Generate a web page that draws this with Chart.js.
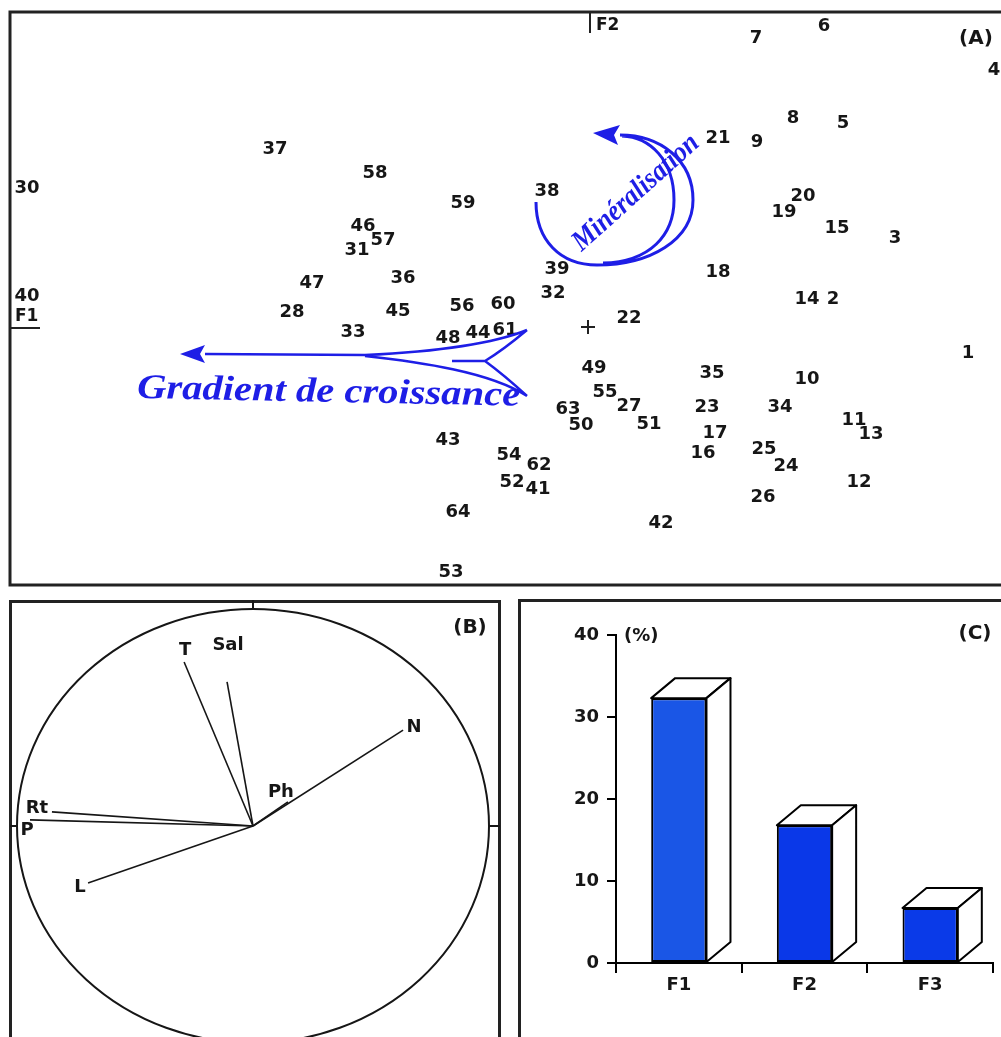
<!DOCTYPE html>
<html>
<head>
<meta charset="utf-8">
<script src="https://cdn.jsdelivr.net/npm/chart.js@4.4.0/dist/chart.umd.min.js"></script>
<style>
  html, body { margin: 0; padding: 0; background: #fff; overflow: hidden; width: 1001px; height: 1037px; }
  canvas { position: absolute; }
  .box { position: absolute; border: 3px solid #222; box-sizing: border-box; }
</style>
</head>
<body>
<div class="box" style="left:9px;top:600px;width:492px;height:500px"></div>
<div class="box" style="left:518px;top:599px;width:530px;height:500px"></div>
<canvas id="chartA" width="1040" height="600" style="left:0;top:0"></canvas>
<canvas id="chartB" width="510" height="447" style="left:0;top:590px"></canvas>
<canvas id="chartC" width="530" height="447" style="left:510px;top:590px"></canvas>
<script>
// (A) station scores on F1 / F2
const stationIds = [1, 2, 3, 4, 5, 6, 7, 8, 9, 10, 11, 12, 13, 14, 15, 16, 17, 18, 19, 20,
  21, 22, 23, 24, 25, 26, 27, 28, 30, 31, 32, 33, 34, 35, 36, 37, 38, 39, 40, 41,
  42, 43, 44, 45, 46, 47, 48, 49, 50, 51, 52, 53, 54, 55, 56, 57, 58, 59, 60, 61,
  62, 63, 64];
const f1Scores = [1.90, 1.225, 1.535, 2.03, 1.275, 1.18, 0.84, 1.025, 0.845, 1.095, 1.33, 1.355, 1.415, 1.095, 1.245, 0.575, 0.635, 0.65, 0.98, 1.075,
  0.65, 0.205, 0.595, 0.99, 0.88, 0.875, 0.205, -1.48, -2.805, -1.155, -0.175, -1.175, 0.96, 0.62, -0.925, -1.565, -0.205, -0.155, -2.805, -0.25,
  0.365, -0.70, -0.55, -0.95, -1.125, -1.38, -0.70, 0.03, -0.035, 0.305, -0.38, -0.685, -0.395, 0.085, -0.63, -1.025, -1.065, -0.625, -0.425, -0.415,
  -0.245, -0.10, -0.65];
const f2Scores = [-0.13, 0.14, 0.445, 1.285, 1.02, 1.505, 1.445, 1.045, 0.925, -0.26, -0.465, -0.775, -0.535, 0.14, 0.495, -0.63, -0.53, 0.275, 0.575, 0.655,
  0.945, 0.045, -0.40, -0.695, -0.61, -0.85, -0.395, 0.075, 0.695, 0.385, 0.17, -0.025, -0.40, -0.23, 0.245, 0.89, 0.68, 0.29, 0.155, -0.81,
  -0.98, -0.565, -0.03, 0.08, 0.505, 0.22, -0.055, -0.205, -0.49, -0.485, -0.775, -1.225, -0.64, -0.325, 0.105, 0.435, 0.77, 0.62, 0.115, -0.015,
  -0.69, -0.41, -0.925];

// (B) correlation circle
const variableNames = ['T', 'Sal', 'N', 'Ph', 'Rt', 'P', 'L'];
const corrF1 = [-0.292, -0.110, 0.636, 0.148, -0.852, -0.945, -0.699];
const corrF2 = [0.756, 0.664, 0.442, 0.111, 0.065, 0.028, -0.263];

// (C) inertia per axis
const axisNames = ['F1', 'F2', 'F3'];
const inertiaPct = [32.3, 16.8, 6.7];
const pctTicks = [0, 10, 20, 30, 40];

const BLUE = '#1e1ee6';
const INK = '#161616';

// where each variable name sits relative to its arrow tip (px)
const labelNudge = [[1, -12], [1, -37], [11, -3], [-7, -10], [-15, -4], [-3, 10], [-8, 4]];

function stretchText(ctx, text, x, y, width) {
  const w = ctx.measureText(text).width;
  ctx.save();
  ctx.translate(x, y);
  ctx.scale(width / w, 1);
  ctx.fillText(text, 0, 0);
  ctx.restore();
}

const panelA = {
  id: 'panelA',
  afterDatasetsDraw(chart) {
    const { ctx, chartArea: a, scales: { x, y } } = chart;
    const P = (u, v) => [x.getPixelForValue(u), y.getPixelForValue(v)];
    const [ox, oy] = P(0, 0);
    ctx.save();
    ctx.strokeStyle = '#222';
    ctx.lineWidth = 3;
    ctx.strokeRect(a.left, a.top, a.right - a.left, a.bottom - a.top);

    // axis markers
    ctx.lineWidth = 2;
    ctx.beginPath();
    ctx.moveTo(ox + 2, a.top); ctx.lineTo(ox + 2, a.top + 21);
    ctx.moveTo(a.left, oy + 1); ctx.lineTo(a.left + 30, oy + 1);
    ctx.moveTo(ox - 7, oy); ctx.lineTo(ox + 7, oy);
    ctx.moveTo(ox, oy - 7); ctx.lineTo(ox, oy + 7);
    ctx.stroke();

    ctx.fillStyle = INK;
    ctx.font = 'bold 17px "DejaVu Sans"';
    ctx.textBaseline = 'middle';
    ctx.textAlign = 'left';
    ctx.fillText('F2', ox + 8, a.top + 14);
    ctx.fillText('F1', a.left + 5, oy - 10);
    ctx.font = 'bold 20px "DejaVu Sans"';
    ctx.textAlign = 'center';
    ctx.fillText('(A)', 976, 39);

    // station numbers
    ctx.font = 'bold 18px "DejaVu Sans"';
    chart.getDatasetMeta(0).data.forEach((pt, i) => {
      ctx.fillText(String(stationIds[i]), pt.x, pt.y);
    });

    // gradient arrow
    ctx.strokeStyle = BLUE;
    ctx.fillStyle = BLUE;
    ctx.lineWidth = 2.5;
    const mv = (u, v) => ctx.moveTo(...P(u, v));
    const ln = (u, v) => ctx.lineTo(...P(u, v));
    const bz = (a1, b1, a2, b2, a3, b3) => ctx.bezierCurveTo(...P(a1, b1), ...P(a2, b2), ...P(a3, b3));
    ctx.beginPath();
    mv(-1.915, -0.135); ln(-1.115, -0.14);
    bz(-0.79, -0.125, -0.49, -0.09, -0.305, -0.015);
    mv(-1.115, -0.145);
    bz(-0.84, -0.175, -0.49, -0.225, -0.305, -0.345);
    mv(-0.68, -0.17); ln(-0.515, -0.17);
    bz(-0.44, -0.125, -0.365, -0.065, -0.305, -0.015);
    mv(-0.515, -0.17);
    bz(-0.44, -0.225, -0.365, -0.29, -0.305, -0.345);
    ctx.stroke();
    ctx.beginPath();
    mv(-2.04, -0.135); ln(-1.915, -0.09); ln(-1.94, -0.135); ln(-1.915, -0.18);
    ctx.closePath();
    ctx.fill();

    // mineralisation loop
    ctx.lineWidth = 3;
    ctx.beginPath();
    mv(-0.26, 0.625);
    bz(-0.26, 0.435, -0.14, 0.31, 0.045, 0.31);
    bz(0.31, 0.31, 0.525, 0.435, 0.525, 0.635);
    bz(0.525, 0.835, 0.36, 0.96, 0.16, 0.96);
    mv(0.075, 0.32);
    bz(0.31, 0.325, 0.43, 0.46, 0.43, 0.635);
    bz(0.43, 0.835, 0.31, 0.95, 0.17, 0.955);
    ctx.stroke();
    ctx.beginPath();
    mv(0.025, 0.97); ln(0.16, 1.01); ln(0.13, 0.96); ln(0.15, 0.91);
    ctx.closePath();
    ctx.fill();

    // blue captions
    ctx.textAlign = 'left';
    ctx.textBaseline = 'alphabetic';
    ctx.font = 'italic bold 35px "Liberation Serif"';
    let [tx, ty] = P(-2.255, -0.355);
    ctx.save();
    ctx.translate(tx, ty);
    ctx.rotate(0.02);
    stretchText(ctx, 'Gradient de croissance', 0, 0, 383);
    ctx.restore();

    ctx.font = 'italic bold 29px "Liberation Serif"';
    ctx.textAlign = 'center';
    ctx.textBaseline = 'middle';
    [tx, ty] = P(0.24, 0.67);
    ctx.save();
    ctx.translate(tx, ty);
    ctx.rotate(-0.733);
    stretchText(ctx, 'Minéralisation', 0, 0, 160);
    ctx.restore();
    ctx.restore();
  }
};

new Chart(document.getElementById('chartA'), {
  type: 'scatter',
  data: {
    datasets: [{
      data: stationIds.map((id, i) => ({ x: f1Scores[i], y: f2Scores[i] })),
      pointRadius: 0
    }]
  },
  options: {
    responsive: false,
    animation: false,
    layout: { padding: { left: 10, top: 12, right: 28, bottom: 15 } },
    plugins: { legend: { display: false }, tooltip: { enabled: false } },
    scales: {
      x: { type: 'linear', min: -2.89, max: 2.12, display: false },
      y: { type: 'linear', min: -1.29, max: 1.575, display: false }
    }
  },
  plugins: [panelA]
});

const panelB = {
  id: 'panelB',
  afterDatasetsDraw(chart) {
    const { ctx, chartArea: a, scales: { x, y } } = chart;
    const cx = x.getPixelForValue(0), cy = y.getPixelForValue(0);
    const rx = x.getPixelForValue(1) - cx, ry = cy - y.getPixelForValue(1);
    ctx.save();
    ctx.strokeStyle = INK;
    ctx.lineWidth = 2;
    ctx.beginPath();
    ctx.ellipse(cx, cy, rx, ry, 0, 0, Math.PI * 2);
    ctx.stroke();
    ctx.beginPath();
    ctx.moveTo(cx, a.top); ctx.lineTo(cx, cy - ry);
    ctx.moveTo(cx, cy + ry); ctx.lineTo(cx, a.bottom + 20);
    ctx.moveTo(a.left, cy); ctx.lineTo(cx - rx, cy);
    ctx.moveTo(cx + rx, cy); ctx.lineTo(a.right, cy);
    ctx.stroke();

    ctx.fillStyle = INK;
    ctx.font = 'bold 18px "DejaVu Sans"';
    ctx.textAlign = 'center';
    ctx.textBaseline = 'middle';
    variableNames.forEach((name, i) => {
      const px = x.getPixelForValue(corrF1[i]) + labelNudge[i][0];
      const py = y.getPixelForValue(corrF2[i]) + labelNudge[i][1];
      ctx.fillText(name, px, py);
    });
    ctx.font = 'bold 20px "DejaVu Sans"';
    ctx.fillText('(B)', 470, 38);
    ctx.restore();
  }
};

new Chart(document.getElementById('chartB'), {
  type: 'scatter',
  data: {
    datasets: variableNames.map((name, i) => ({
      label: name,
      data: [{ x: 0, y: 0 }, { x: corrF1[i], y: corrF2[i] }],
      showLine: true,
      borderColor: INK,
      borderWidth: 1.6,
      pointRadius: 0
    }))
  },
  options: {
    responsive: false,
    animation: false,
    layout: { padding: { left: 10, top: 10, right: 10, bottom: 0 } },
    plugins: { legend: { display: false }, tooltip: { enabled: false } },
    scales: {
      x: { type: 'linear', min: -1.0297, max: 1.0466, display: false },
      y: { type: 'linear', min: -0.9724, max: 1.0415, display: false }
    }
  },
  plugins: [panelB]
});

const panelC = {
  id: 'panelC',
  afterDatasetsDraw(chart) {
    const { ctx } = chart;
    const dx = 24, dy = -20;
    ctx.save();
    ctx.strokeStyle = '#000';
    ctx.fillStyle = '#fff';
    ctx.lineWidth = 2;
    ctx.lineJoin = 'round';
    chart.getDatasetMeta(0).data.forEach(bar => {
      const l = bar.x - bar.width / 2, r = bar.x + bar.width / 2;
      const t = bar.y, b = bar.base;
      ctx.beginPath();
      ctx.moveTo(l, t); ctx.lineTo(l + dx, t + dy); ctx.lineTo(r + dx, t + dy); ctx.lineTo(r, t);
      ctx.closePath();
      ctx.fill(); ctx.stroke();
      ctx.beginPath();
      ctx.moveTo(r, t); ctx.lineTo(r + dx, t + dy); ctx.lineTo(r + dx, b + dy); ctx.lineTo(r, b);
      ctx.closePath();
      ctx.fill(); ctx.stroke();
    });
    ctx.fillStyle = INK;
    ctx.font = 'bold 18px "DejaVu Sans"';
    ctx.textAlign = 'left';
    ctx.textBaseline = 'middle';
    ctx.fillText('(%)', 114, 46);
    ctx.font = 'bold 20px "DejaVu Sans"';
    ctx.textAlign = 'center';
    ctx.fillText('(C)', 465, 44);
    ctx.restore();
  }
};

new Chart(document.getElementById('chartC'), {
  type: 'bar',
  data: {
    labels: axisNames,
    datasets: [{
      data: inertiaPct,
      backgroundColor: ['#1a56e6', '#0a38e8', '#0a3ae8'],
      borderColor: '#000',
      borderWidth: 2,
      borderSkipped: false,
      barPercentage: 0.44,
      categoryPercentage: 1
    }]
  },
  options: {
    responsive: false,
    animation: false,
    layout: { padding: { left: 0, top: 45, right: 47, bottom: 0 } },
    plugins: { legend: { display: false }, tooltip: { enabled: false } },
    scales: {
      x: {
        afterFit(s) { s.height = 74; },
        grid: { offset: true, drawOnChartArea: false, color: '#000', lineWidth: 2, tickLength: 10 },
        border: { color: '#000', width: 2 },
        ticks: { color: INK, font: { family: 'DejaVu Sans', size: 18, weight: 'bold' }, padding: 2 }
      },
      y: {
        min: 0, max: 40,
        afterFit(s) { s.width = 106; },
        afterBuildTicks(s) { s.ticks = pctTicks.map(v => ({ value: v })); },
        grid: { drawOnChartArea: false, color: '#000', lineWidth: 2, tickLength: 9 },
        border: { color: '#000', width: 2 },
        ticks: { color: INK, font: { family: 'DejaVu Sans', size: 18, weight: 'bold' }, padding: 8 }
      }
    }
  },
  plugins: [panelC]
});
</script>
</body>
</html>
